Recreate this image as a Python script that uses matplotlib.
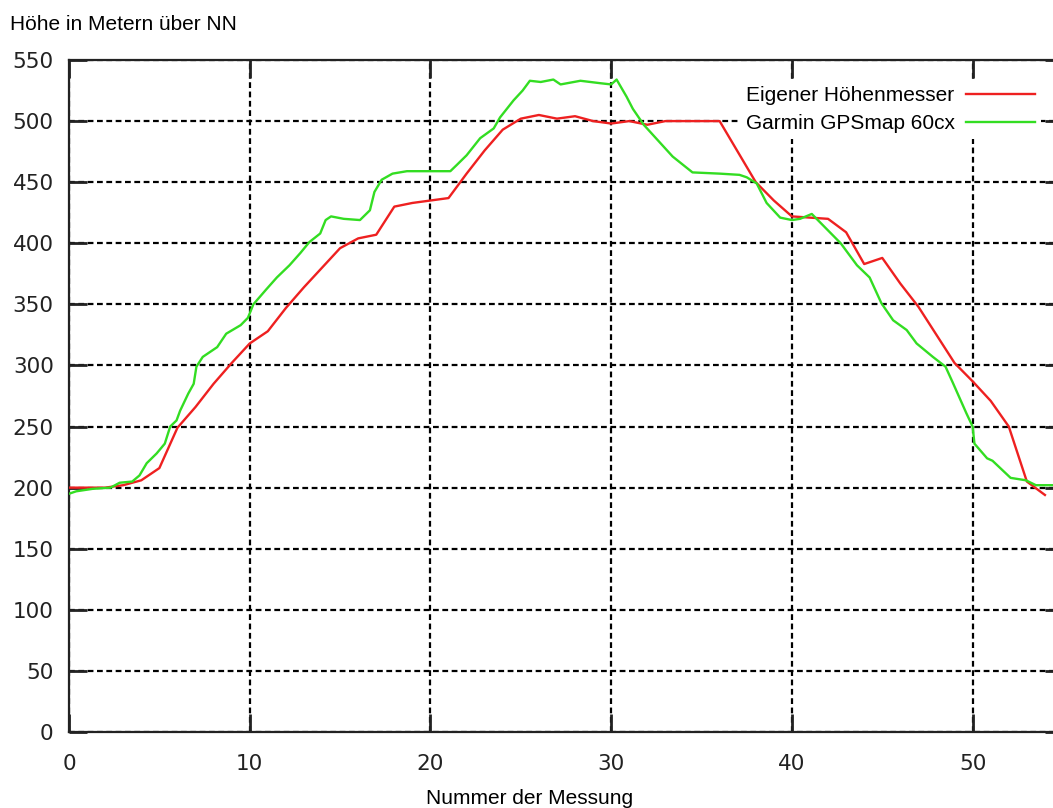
import numpy as np
import matplotlib.pyplot as plt

# Eigener Höhenmesser: one value per measurement
red_x = list(range(55))
red_y = [200, 200, 200, 202, 206, 216, 249, 266, 285, 302,
         318, 328, 347, 364, 380, 396, 404, 407, 430, 433,
         435, 437, 457, 476, 493, 502, 505, 502, 504, 500,
         498, 500, 497, 500, 500, 500, 500, 475, 450, 435,
         422, 421, 420, 409, 383, 388, 367, 348, 325, 302,
         287, 271, 250, 205, 194]

# Garmin GPSmap 60cx: logged more often
green_x = [0.0, 0.4, 1.3, 2.3, 2.8, 3.5, 3.9, 4.3, 4.85, 5.3, 5.6, 5.95, 6.15, 6.6,
           6.9, 7.05, 7.4, 8.2, 8.7, 9.5, 9.9, 10.2, 10.9, 11.5, 12.2, 12.8, 13.3,
           13.9, 14.2, 14.5, 15.2, 16.1, 16.65, 16.9, 17.3, 17.9, 18.7, 20.0, 21.1,
           21.45, 22.0, 22.75, 23.5, 23.85, 24.6, 25.1, 25.5, 26.1, 26.8, 27.2,
           28.3, 29.4, 30.0, 30.3, 30.85, 31.2, 31.8, 33.4, 34.5, 36.0, 37.1, 37.5,
           38.05, 38.6, 39.35, 40.0, 40.45, 41.1, 41.7, 42.7, 43.6, 44.3, 44.95,
           45.6, 46.35, 46.9, 47.8, 48.5, 48.9, 49.65, 50.0, 50.1, 50.8, 51.1, 52.1,
           52.95, 53.5, 54.5]
green_y = [195, 197, 199, 200, 204, 205, 210, 220, 228, 236, 250, 255, 263, 277,
           285, 299, 307, 315, 326, 333, 339, 350, 362, 372, 382, 392, 401,
           408, 419, 422, 420, 419, 427, 442, 452, 457, 459, 459, 459,
           464, 472, 486, 494, 503, 517, 525, 533, 532, 534, 530,
           533, 531, 530, 534, 520, 510, 497, 471, 458, 457, 456, 454,
           449, 433, 421, 419, 420, 424, 415, 400, 382, 372, 351,
           337, 329, 318, 307, 299, 286, 261, 250, 236, 224, 222, 208,
           206, 202, 202]

x_ticks = [0, 10, 20, 30, 40, 50]
y_ticks = list(range(0, 551, 50))

W, H = 1053, 808
fig = plt.figure(figsize=(W / 100, H / 100), dpi=100)
# right border of the original is cut off, so the axes run past the figure edge
ax = fig.add_axes([69 / W, 76 / H, 994 / W, 672 / H])

ax.plot(red_x, red_y, color='#ee2020', lw=1.7, label='Eigener Höhenmesser', zorder=3)
ax.plot(green_x, green_y, color='#33dd22', lw=1.7, label='Garmin GPSmap 60cx', zorder=3)

ax.set_xlim(0, 55)
ax.set_ylim(0, 550)
ax.set_xticks(x_ticks)
ax.set_yticks(y_ticks)
ax.grid(True, color='black', lw=1.6, linestyle=(0, (2.6, 1.6)), zorder=1)
for s in ax.spines.values():
    s.set_linewidth(1.6)
    s.set_color('#222222')
ax.tick_params(direction='in', length=13, width=2, top=True, right=True,
               labelsize=15.5, labelcolor='#222222', color='#222222', zorder=2)
ax.tick_params(axis='x', pad=16)
ax.tick_params(axis='y', pad=11)

leg = ax.legend(loc='upper right', bbox_to_anchor=(1041 / W, 1 - 80 / H),
                bbox_transform=fig.transFigure, markerfirst=False,
                frameon=True, fancybox=False, edgecolor='none', facecolor='white',
                framealpha=1, handlelength=3.3, handletextpad=0.55,
                labelspacing=0.42, borderpad=0.3, borderaxespad=0,
                prop={'family': 'Liberation Sans', 'size': 15})
leg.set_zorder(4)
for t in leg.get_texts():
    t.set_ha('right')

fig.text(10 / W, 1 - 24 / H, 'Höhe in Metern über NN', ha='left', va='center',
         family='Liberation Sans', fontsize=15)
fig.text(530 / W, 1 - 799 / H, 'Nummer der Messung', ha='center', va='center',
         family='Liberation Sans', fontsize=15)

fig.savefig('out.png', dpi=100)
